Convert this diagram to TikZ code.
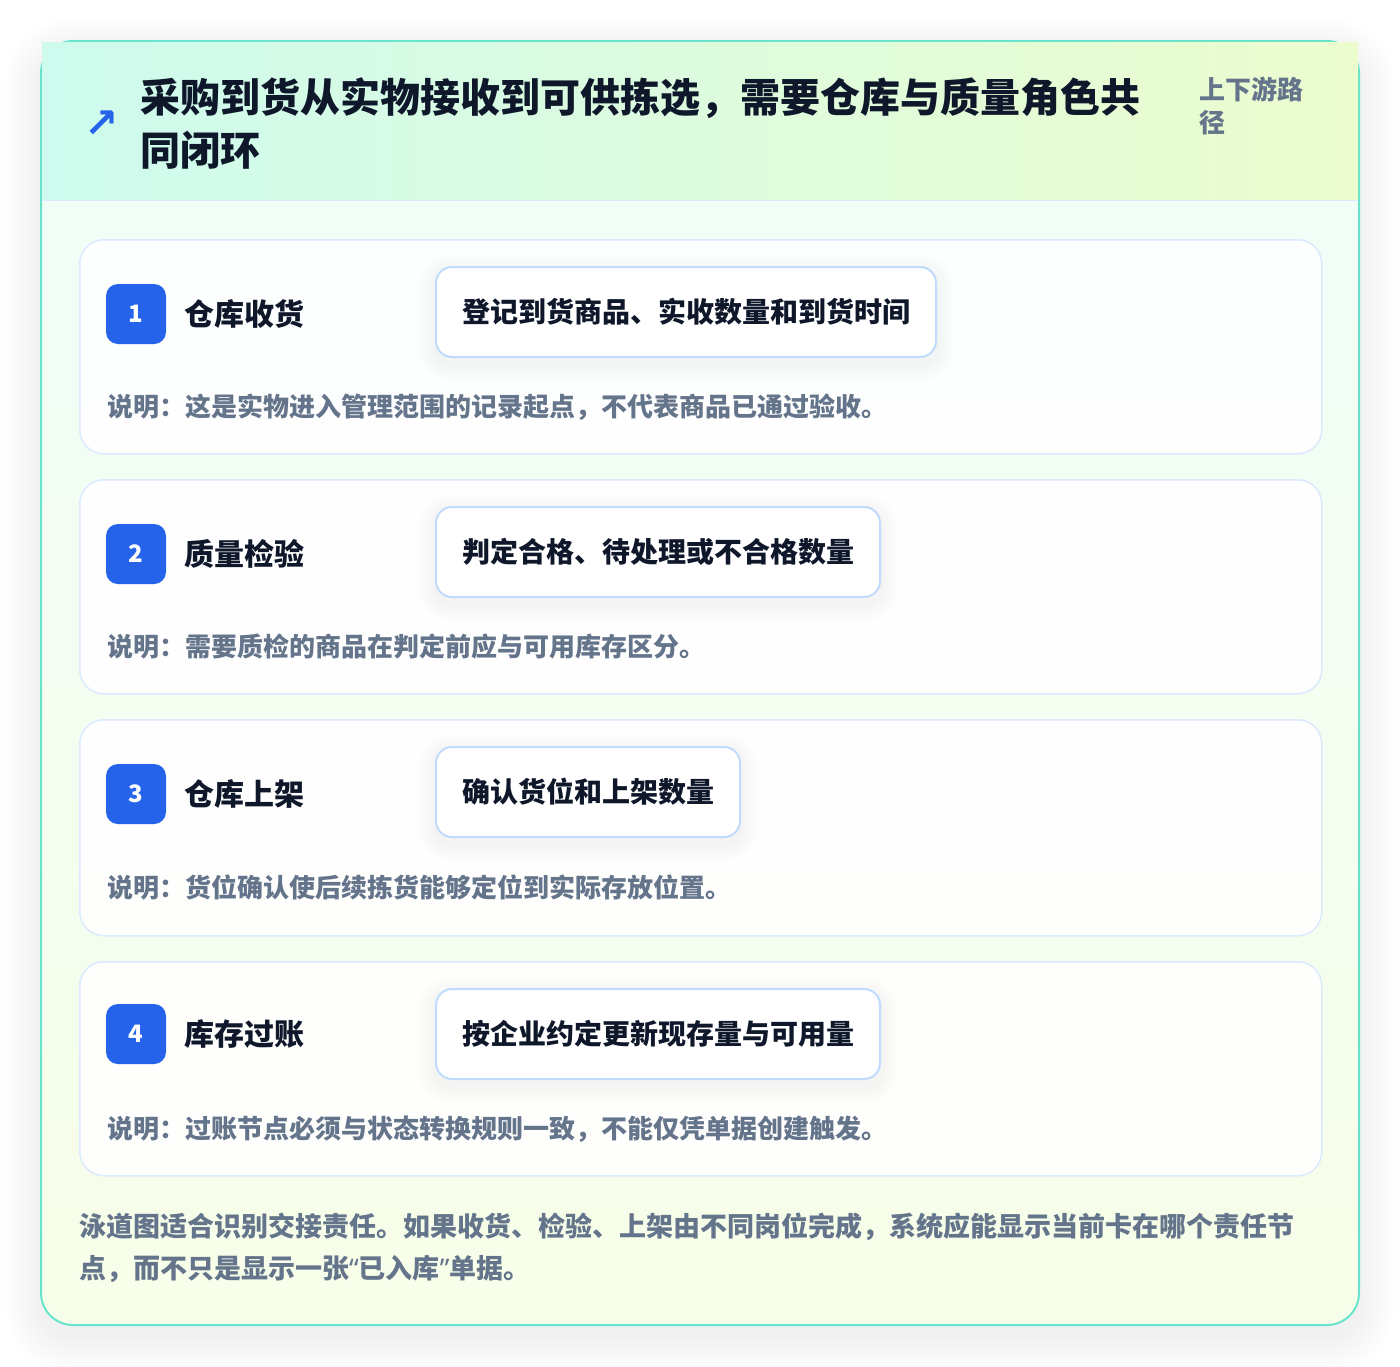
\documentclass[tikz,border=0pt]{standalone}
\usepackage{fontspec}
\setmainfont{Noto Sans CJK SC}
\newfontfamily\symfont{DejaVu Sans}
\newfontfamily\latinfont{Noto Sans}
\usetikzlibrary{calc}
\newcommand\myfs[1]{\fontsize{#1}{#1}\selectfont}
\definecolor{titledark}{HTML}{0F172A}
\definecolor{graytext}{HTML}{64748B}
\definecolor{badgeblue}{HTML}{2563EB}
\definecolor{cardborder}{RGB}{104,228,204}
\definecolor{rowborder}{HTML}{DBEAFE}
\definecolor{pillborder}{HTML}{BFDBFE}
\definecolor{hdl}{RGB}{206,251,238}
\definecolor{hdr}{RGB}{236,252,206}
\definecolor{bodytop}{RGB}{240,253,249}
\definecolor{bodybot}{RGB}{247,254,233}
\pgfdeclarelayer{cardlayer}
\pgfdeclarelayer{shadowlayer}
\pgfsetlayers{cardlayer,shadowlayer,main}
\begin{document}
\begin{tikzpicture}[x=1pt,y=-1pt,
  rowbox/.style={draw=rowborder, line width=1.5pt, fill=white, fill opacity=0.9, draw opacity=1,
    rounded corners=24pt, minimum width=1242pt, anchor=north west, inner sep=0pt},
  badge/.style={fill=badgeblue, rounded corners=12pt, minimum width=60pt, minimum height=60pt,
    text=white, font=\bfseries\myfs{24}, inner sep=0pt},
  steplabel/.style={anchor=west, text=titledark, font=\bfseries\myfs{30}, inner sep=0pt},
  pill/.style={draw=pillborder, line width=2pt, fill=white, rounded corners=16pt,
    minimum height=90pt, inner xsep=26pt, anchor=west, text=titledark, font=\bfseries\myfs{28}},
  note/.style={anchor=west, text=graytext, font=\bfseries\myfs{26}, inner sep=0pt},
  foot/.style={anchor=west, text=graytext, font=\bfseries\myfs{27}, inner sep=0pt},
  titletext/.style={anchor=west, text=titledark, font=\bfseries\myfs{40}, inner sep=0pt},
  subtext/.style={anchor=west, text=graytext, font=\bfseries\myfs{26}, inner sep=0pt},
]
\useasboundingbox (0,0) rectangle (1400,1366);

\begin{pgfonlayer}{cardlayer}
\fill[white] (0,0) rectangle (1400,1366);
% card shadow
\foreach \k in {1,...,14}{
  \pgfmathsetmacro\e{\k*2.6}
  \fill[black, opacity=0.0055, rounded corners=32pt+\e pt]
    (41-\e,41-\e+12) rectangle (1359+\e,1325+\e+12);
}
% card body
\shade[rounded corners=32pt, top color=bodytop, bottom color=bodybot] (41,41) rectangle (1359,1325);
\draw[cardborder, line width=2pt, rounded corners=32pt] (41,41) rectangle (1359,1325);
% header
\shade[left color=hdl, right color=hdr] (42,42) rectangle (1358,200);
\draw[rowborder, line width=1.5pt] (42,200.5) -- (1358,200.5);
% rows
\node[rowbox, minimum height=214pt] (row1) at (79,239) {};
\node[rowbox, minimum height=214pt] (row2) at (79,479) {};
\node[rowbox, minimum height=216pt] (row3) at (79,719) {};
\node[rowbox, minimum height=214pt] (row4) at (79,961) {};
\end{pgfonlayer}

% header content
\node[text=badgeblue, font=\symfont\bfseries\myfs{41}, inner sep=0pt] (icon) at (102,124) {↗};
\node[titletext] (title1) at (140,98) {采购到货从实物接收到可供拣选，需要仓库与质量角色共};
\node[titletext] (title2) at (140,150) {同闭环};
\node[subtext] (sub1) at (1199,89) {上下游路};
\node[subtext] (sub2) at (1199,123) {径};

% row 1
\node[badge] (b1) at (136,314) {1};
\node[steplabel] (l1) at (184,314) {仓库收货};
\node[pill] (p1) at (435,312) {登记到货商品、实收数量和到货时间};
\node[note] (n1) at (107,407) {说明：这是实物进入管理范围的记录起点，不代表商品已通过验收。};
% row 2
\node[badge] (b2) at (136,554) {2};
\node[steplabel] (l2) at (184,554) {质量检验};
\node[pill] (p2) at (435,552) {判定合格、待处理或不合格数量};
\node[note] (n2) at (107,647) {说明：需要质检的商品在判定前应与可用库存区分。};
% row 3
\node[badge] (b3) at (136,794) {3};
\node[steplabel] (l3) at (184,794) {仓库上架};
\node[pill] (p3) at (435,792) {确认货位和上架数量};
\node[note] (n3) at (107,887) {说明：货位确认使后续拣货能够定位到实际存放位置。};
% row 4
\node[badge] (b4) at (136,1034) {4};
\node[steplabel] (l4) at (184,1034) {库存过账};
\node[pill] (p4) at (435,1034) {按企业约定更新现存量与可用量};
\node[note] (n4) at (107,1129) {说明：过账节点必须与状态转换规则一致，不能仅凭单据创建触发。};

% pill shadows
\begin{pgfonlayer}{shadowlayer}
\foreach \p in {p1,p2,p3,p4}{
  \foreach \k in {1,...,10}{
    \pgfmathsetmacro\e{\k*1.8}
    \fill[black, opacity=0.0042, rounded corners=16pt+\e pt]
      ($(\p.north west)+(-\e,-\e+6)$) rectangle ($(\p.south east)+(\e,\e+6)$);
  }
}
\end{pgfonlayer}

% footer
\node[foot] (f1) at (79,1227) {泳道图适合识别交接责任。如果收货、检验、上架由不同岗位完成，系统应能显示当前卡在哪个责任节};
\node[foot] (f2) at (79,1269) {点，而不只是显示一张{\latinfont “}已入库{\latinfont ”}单据。};
\end{tikzpicture}
\end{document}
